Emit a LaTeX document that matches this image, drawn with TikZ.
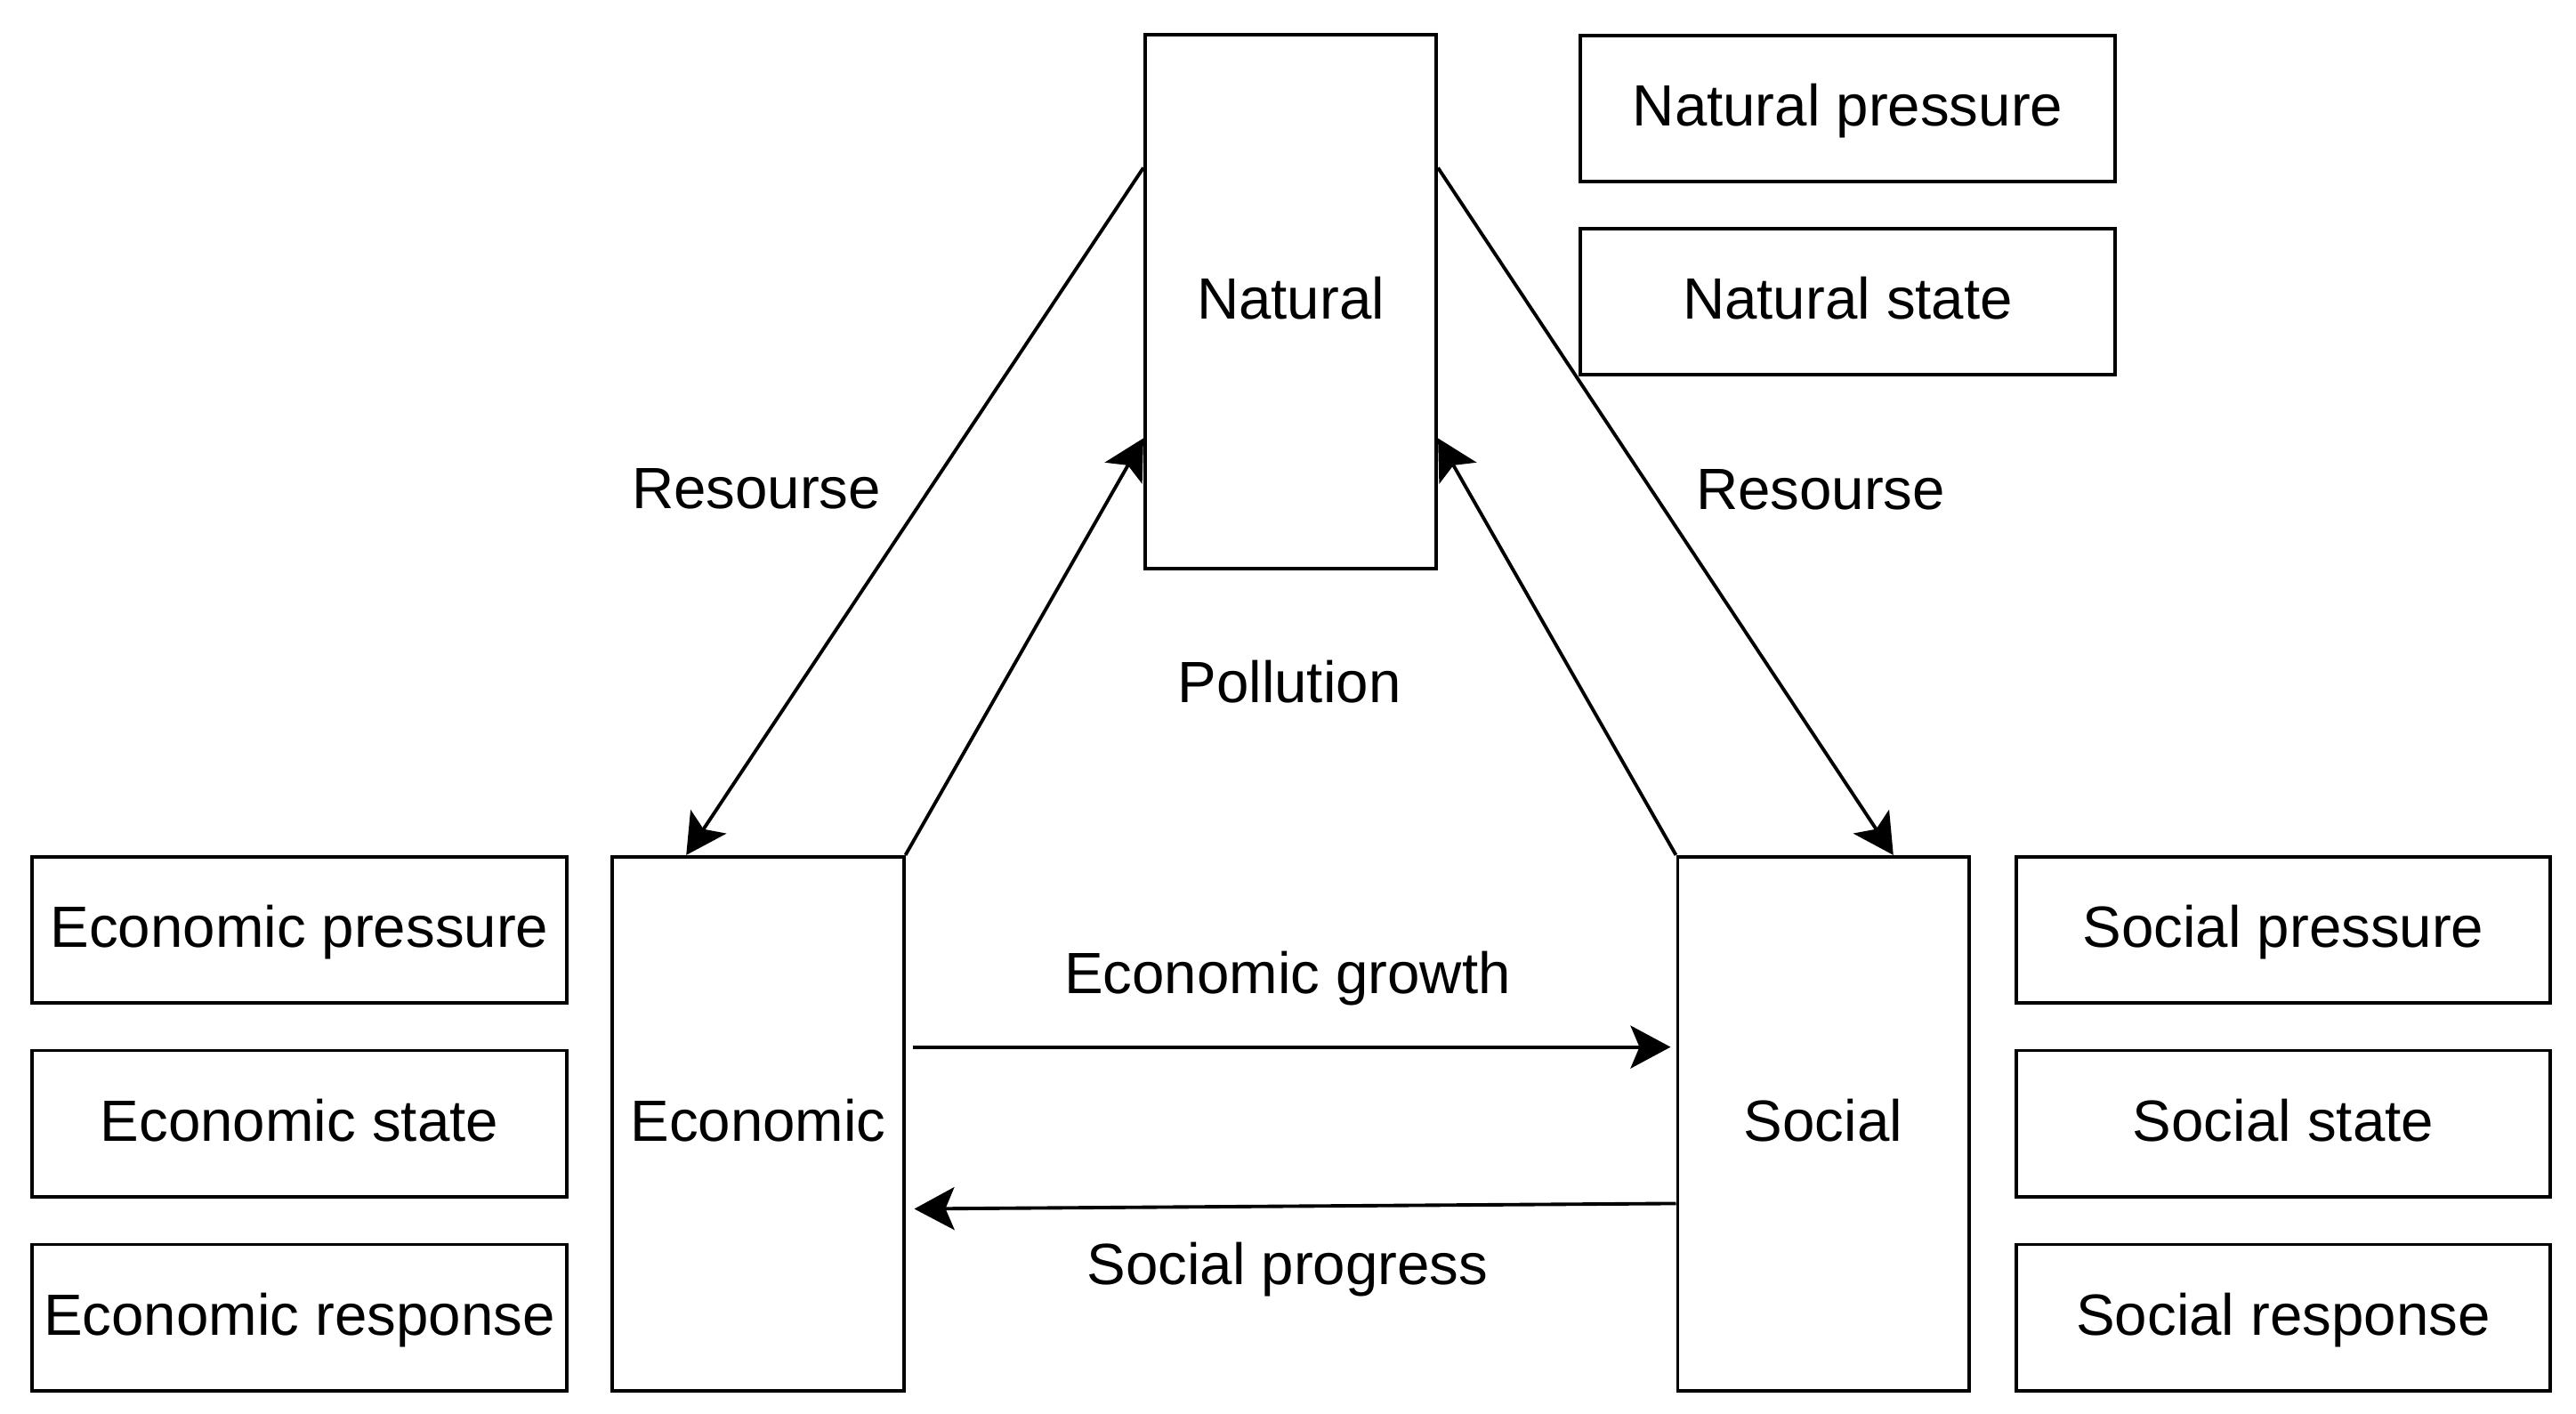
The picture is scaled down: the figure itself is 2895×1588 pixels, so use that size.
\documentclass[tikz,border=0pt]{standalone}
\usepackage{fontspec}
\setmainfont{Liberation Sans}
\usetikzlibrary{arrows.meta,calc}
\begin{document}
\begin{tikzpicture}[x=0.01cm,y=-0.01cm,
  txt/.style={font=\fontsize{18.6}{22}\selectfont, text height=1.26em, text depth=0.13em},
  box/.style={txt, draw, line width=1.1pt, inner sep=0pt, fill=white},
  bigbox/.style={box, minimum width=3.27cm, minimum height=6cm},
  smallbox/.style={box, minimum width=6cm, minimum height=1.64cm},
  lbl/.style={txt, inner sep=0pt},
  conn/.style={line width=1.1pt, -{Stealth[length=0.45cm,width=0.48cm,inset=0.1cm]}}]
\fill[white] (0,0) rectangle (2895,1588);
\useasboundingbox (0,0) rectangle (2895,1588);

% main boxes
\node[bigbox] (nat) at (1450.5,339) {Natural};
\node[bigbox] (eco) at (852,1263) {Economic};
\node[bigbox] (soc) at (2049,1263) {Social};

% side boxes
\node[smallbox] (np) at (2076.5,122) {Natural pressure};
\node[smallbox] (ns) at (2076.5,339) {Natural state};
\node[smallbox] (ep) at (336.5,1045) {Economic pressure};
\node[smallbox] (es) at (336.5,1262.5) {Economic state};
\node[smallbox] (er) at (336.5,1480.5) {Economic response};
\node[smallbox] (sp) at (2566,1045) {Social pressure};
\node[smallbox] (ss) at (2566,1262.5) {Social state};
\node[smallbox] (sr) at (2566,1480.5) {Social response};

% labels
\node[lbl] (rl) at (850,552) {Resourse};
\node[lbl] (rr) at (2046,553) {Resourse};
\node[lbl] (pol) at (1449,770) {Pollution};
\node[lbl] (eg) at (1447,1097) {Economic growth};
\node[lbl] (sprog) at (1447,1424) {Social progress};

% connectors
\draw[conn] ($(nat.north west)!0.251!(nat.south west)$) -- ($(eco.north west)!0.256!(eco.north east)$);
\draw[conn] ($(nat.north east)!0.251!(nat.south east)$) -- ($(soc.north west)!0.738!(soc.north east)$);
\draw[conn] (eco.north east) -- ($(nat.north west)!0.754!(nat.south west)$);
\draw[conn] (soc.north west) -- ($(nat.north east)!0.754!(nat.south east)$);
\draw[conn] ($(eco.north east)!0.357!(eco.south east)+(8,0)$) -- ($(soc.north west)!0.357!(soc.south west)+(-6,0)$);
\draw[conn] ($(soc.north west)!0.648!(soc.south west)$) -- ($(eco.north east)!0.658!(eco.south east)+(10,0)$);
\end{tikzpicture}
\end{document}
